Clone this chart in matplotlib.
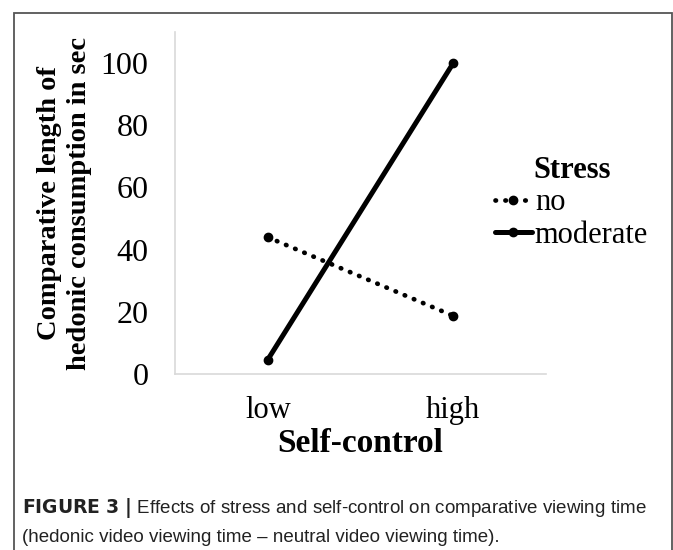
import numpy as np
import matplotlib.pyplot as plt
from matplotlib.patches import Rectangle

# data
categories = ["low", "high"]
stress_no = [44, 18.7]
stress_moderate = [4.6, 100]
y_ticks = [0, 20, 40, 60, 80, 100]

serif = "Liberation Serif"

fig = plt.figure(figsize=(6.73, 5.5), dpi=100)
ax = fig.add_axes([175 / 673, 1 - 374 / 550, 371 / 673, 342 / 550])

x = np.arange(len(categories))
ax.plot(x, stress_no, color="black", lw=3.4, linestyle=(0, (0.1, 2.0)),
        dash_capstyle="round", marker="o", markersize=6, label="no")
ax.plot(x, stress_moderate, color="black", lw=3.6, solid_capstyle="round",
        marker="o", markersize=6, label="moderate")

ax.set_xlim(-0.5, 1.5)
ax.set_ylim(0, 110)
ax.set_xticks(x)
ax.set_xticklabels(categories, fontfamily=serif, fontsize=22)
ax.set_yticks(y_ticks)
ax.set_yticklabels([str(t) for t in y_ticks], fontfamily=serif, fontsize=23)
ax.tick_params(axis="y", length=0, pad=19)
ax.tick_params(axis="x", length=0, pad=16)

for side in ["top", "right"]:
    ax.spines[side].set_visible(False)
for side in ["left", "bottom"]:
    ax.spines[side].set_color("#d9d9d9")
    ax.spines[side].set_linewidth(1.2)

ax.set_xlabel("Self-control", fontfamily=serif, fontsize=24, fontweight="bold", labelpad=2)
ax.set_ylabel("Comparative length of\nhedonic consumption in sec", fontfamily=serif,
              fontsize=20.5, fontweight="bold", linespacing=1.3, labelpad=6)

leg = ax.legend(loc="center left", bbox_to_anchor=(0.83, 0.50), frameon=False,
                title="Stress", prop={"family": serif, "size": 22},
                handlelength=1.2, handletextpad=0.1, labelspacing=0.1,
                borderaxespad=0)
leg.get_title().set_fontfamily(serif)
leg.get_title().set_fontsize(22)
leg.get_title().set_fontweight("bold")

# caption
fig.text(22 / 673, 1 - 508 / 550, r"$\bf{FIGURE\ 3\ |}$ Effects of stress and self-control on comparative viewing time",
         fontfamily="Liberation Sans", fontsize=13.5, va="center", color="#222222")
fig.text(22 / 673, 1 - 537 / 550, "(hedonic video viewing time \u2013 neutral video viewing time).",
         fontfamily="Liberation Sans", fontsize=13.5, va="center", color="#222222")

# outer frame
fig.patches.append(Rectangle((14 / 673, -0.05), (672 - 14) / 673, 1.05 - 13 / 550,
                             transform=fig.transFigure, fill=False,
                             edgecolor="#555555", linewidth=1.3))

fig.savefig("out.png", dpi=100)
